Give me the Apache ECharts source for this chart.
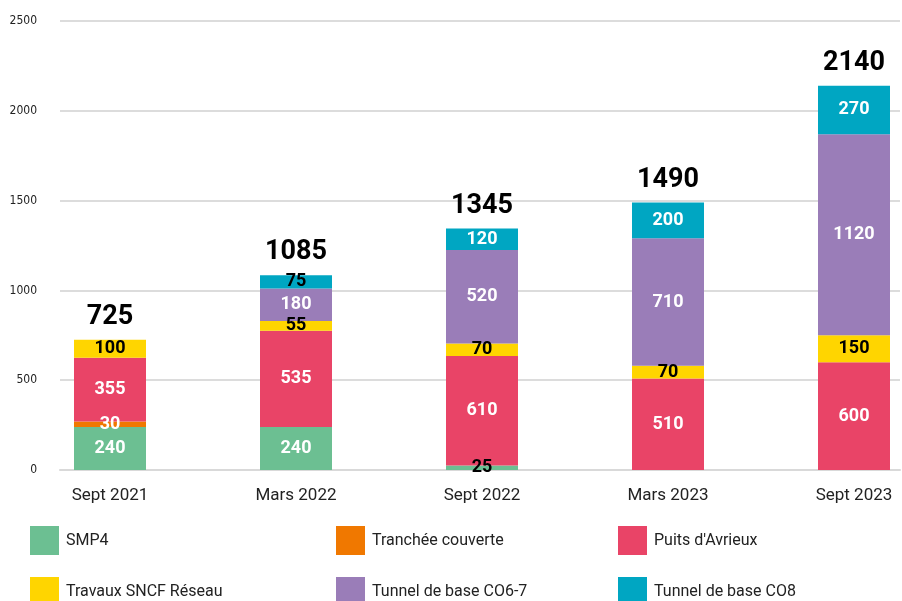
<!DOCTYPE html>
<html>
<head>
<meta charset="utf-8">
<script src="https://cdn.jsdelivr.net/npm/echarts@6/dist/echarts.min.js"></script>
<style>
  html, body { margin: 0; padding: 0; background: #fff; }
  #chart { width: 902px; height: 601px; }
</style>
</head>
<body>
<div id="chart"></div>
<script>
const categories = ['Sept 2021', 'Mars 2022', 'Sept 2022', 'Mars 2023', 'Sept 2023']
const smp4 = [240, 240, 25, 0, 0]
const tranchee = [30, 0, 0, 0, 0]
const puits = [355, 535, 610, 510, 600]
const sncf = [100, 55, 70, 70, 150]
const co67 = [0, 180, 520, 710, 1120]
const co8 = [0, 75, 120, 200, 270]
const totals = [725, 1085, 1345, 1490, 2140]
const yTicks = [0, 500, 1000, 1500, 2000, 2500]

const font = 'Roboto, "DejaVu Sans", sans-serif'
const colors = {
  smp4: '#6cbf92',
  tranchee: '#f07800',
  puits: '#e94467',
  sncf: '#ffd500',
  co67: '#9a7db8',
  co8: '#00a6c2'
}

// black labels on a few small segments
function withLabels (values, blackIdx) {
  return values.map((v, i) => {
    if (blackIdx.indexOf(i) >= 0) {
      return { value: v, label: { color: '#000' } }
    }
    return v
  })
}

function barSeries (name, values, color, labelColor, blackIdx) {
  return {
    name: name,
    type: 'bar',
    stack: 'total',
    barWidth: 72,
    xAxisIndex: 0,
    yAxisIndex: 0,
    itemStyle: { color: color },
    label: {
      show: true,
      position: 'inside',
      color: labelColor,
      fontFamily: font,
      fontWeight: 'bold',
      fontSize: 18,
      formatter: p => (p.value ? p.value : '')
    },
    data: withLabels(values, blackIdx || [])
  }
}

// one legend per item, placed in a 3 x 2 layout
function legendItem (name, left, top) {
  return {
    left: left,
    top: top,
    padding: 0,
    itemWidth: 29,
    itemHeight: 29,
    itemGap: 7,
    icon: 'rect',
    textStyle: { fontSize: 16, color: '#222', fontFamily: font, padding: [3, 0, 0, 2] },
    data: [name]
  }
}

const myChart = echarts.init(document.getElementById('chart'))
myChart.setOption({
  animation: false,
  textStyle: { fontFamily: font },
  grid: [
    // bars sit on the ticks, 186px apart
    { left: 110, right: 48, top: 21, bottom: 131 },
    { left: 60, right: 2, top: 21, bottom: 131 }
  ],
  xAxis: [
    {
      type: 'category',
      gridIndex: 0,
      boundaryGap: false,
      data: categories,
      axisLine: { show: false },
      axisTick: { show: false },
      axisLabel: { margin: 17, fontSize: 17, color: '#222', fontFamily: font }
    },
    {
      type: 'value',
      gridIndex: 1,
      min: 0,
      max: 1,
      axisLine: { show: true, lineStyle: { color: '#d9d9d9', width: 2 } },
      axisTick: { show: false },
      axisLabel: { show: false },
      splitLine: { show: false }
    }
  ],
  yAxis: [
    {
      type: 'value',
      gridIndex: 0,
      min: yTicks[0],
      max: yTicks[yTicks.length - 1],
      interval: 500,
      axisLine: { show: false },
      axisTick: { show: false },
      axisLabel: { show: false },
      splitLine: { show: false }
    },
    {
      type: 'value',
      gridIndex: 1,
      min: yTicks[0],
      max: yTicks[yTicks.length - 1],
      interval: 500,
      axisLine: { show: false },
      axisTick: { show: false },
      axisLabel: {
        margin: 23,
        fontSize: 12,
        color: '#222',
        fontFamily: '"DejaVu Sans Condensed", "Liberation Sans Narrow", sans-serif',
        formatter: v => String(v)
      },
      splitLine: { lineStyle: { color: '#dcdcdc', width: 2 } }
    }
  ],
  legend: [
    legendItem('SMP4', 30, 526),
    legendItem('Tranchée couverte', 336, 526),
    legendItem("Puits d'Avrieux", 618, 526),
    legendItem('Travaux SNCF Réseau', 30, 577),
    legendItem('Tunnel de base CO6-7', 336, 577),
    legendItem('Tunnel de base CO8', 618, 577)
  ],
  series: [
    barSeries('SMP4', smp4, colors.smp4, '#fff', [2]),
    barSeries('Tranchée couverte', tranchee, colors.tranchee, '#fff'),
    barSeries("Puits d'Avrieux", puits, colors.puits, '#fff'),
    barSeries('Travaux SNCF Réseau', sncf, colors.sncf, '#000'),
    barSeries('Tunnel de base CO6-7', co67, colors.co67, '#fff'),
    barSeries('Tunnel de base CO8', co8, colors.co8, '#fff', [1]),
    {
      name: 'Total',
      type: 'scatter',
      xAxisIndex: 0,
      yAxisIndex: 0,
      symbolSize: 0,
      silent: true,
      itemStyle: { opacity: 1 },
      label: {
        show: true,
        position: 'top',
        distance: 9,
        color: '#000',
        opacity: 1,
        fontFamily: font,
        fontWeight: 'bold',
        fontSize: 27,
        formatter: p => p.value
      },
      data: totals
    }
  ]
})
window.addEventListener('resize', () => {
  myChart.resize()
})
</script>
</body>
</html>
